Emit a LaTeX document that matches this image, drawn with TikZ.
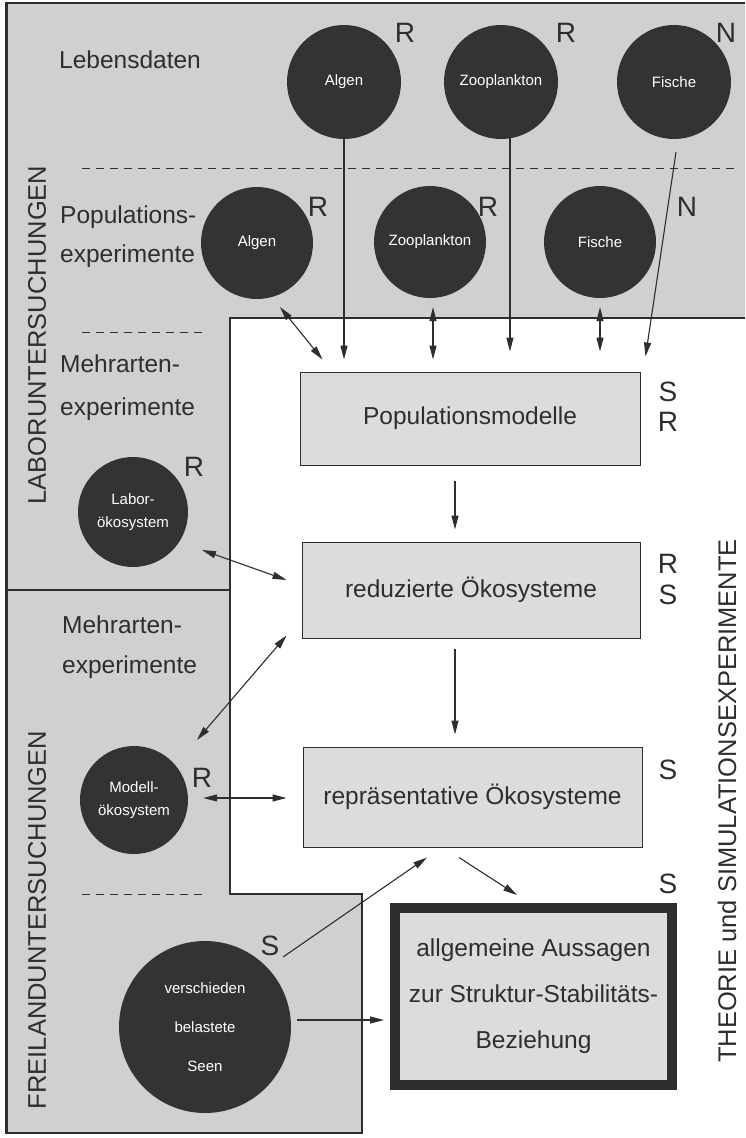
\documentclass[tikz,border=0pt]{standalone}
\usepackage{fontspec}
\setmainfont{Liberation Sans}
\usetikzlibrary{arrows.meta,calc}
\definecolor{ink}{HTML}{2E2E2E}
\definecolor{areagrey}{HTML}{D0D0D0}
\definecolor{boxfill}{HTML}{DCDCDC}
\definecolor{discfill}{HTML}{333333}
\begin{document}
\begin{tikzpicture}[x=1pt,y=-1pt,
  every node/.style={text=ink},
  disc/.style={circle,fill=discfill,text=white,inner sep=0pt,minimum size=#1,
    font=\fontsize{15}{23}\selectfont,align=center},
  modelbox/.style={draw=ink,line width=1pt,fill=boxfill,inner sep=0pt,
    font=\fontsize{24.5}{28}\selectfont},
  lbl/.style={anchor=base west,inner sep=0pt,font=\fontsize{24.5}{28}\selectfont},
  tagtext/.style={inner sep=0pt,font=\fontsize{28}{28}\selectfont},
  sidelabel/.style={rotate=90,inner sep=0pt,font=\fontsize{25.5}{26}\selectfont},
  arr/.style={draw=ink,line width=1.1pt,-{Triangle[length=14pt,width=7pt]}},
  dbl/.style={draw=ink,line width=1.1pt,{Triangle[length=14pt,width=7pt]}-{Triangle[length=14pt,width=7pt]}},
  sep/.style={draw=ink,line width=1pt,dash pattern=on 8pt off 6pt},
  frame/.style={draw=ink,line width=1.4pt}
]
\useasboundingbox (0,0) rectangle (745,1138);
\fill[white] (0,0) rectangle (745,1138);
% shaded regions
\fill[areagrey] (8,3) -- (745,3) -- (745,318) -- (230,318) -- (230,894) -- (362,894) -- (362,1133) -- (8,1133) -- cycle;
\draw[frame] (745,318) -- (230,318) -- (230,894) -- (362,894) -- (362,1133) -- (6,1133);
\draw[frame] (6,3) -- (745,3);
\draw[draw=ink,line width=3pt] (6,2) -- (6,1134);
\draw[frame] (6,590) -- (230,590);
\draw[sep] (82,168) -- (735,168);
\draw[sep] (82,332) -- (207,332);
\draw[sep] (82,894) -- (207,894);
% side labels
\node[sidelabel] (labor) at (37,335) {LABORUNTERSUCHUNGEN};
\node[sidelabel] (frei) at (37,920) {FREILANDUNTERSUCHUNGEN};
\node[sidelabel] (theo) at (727,801) {THEORIE und SIMULATIONSEXPERIMENTE};
% left labels
\node[lbl] (t1) at (59,68) {Lebensdaten};
\node[lbl] (t2) at (60,223) {Populations-};
\node[lbl] (t3) at (60,262) {experimente};
\node[lbl] (t4) at (60,372) {Mehrarten-};
\node[lbl] (t5) at (60,415) {experimente};
\node[lbl] (t6) at (62,633) {Mehrarten-};
\node[lbl] (t7) at (62,673) {experimente};
% discs
\node[disc=114pt] (a1) at (344,82) {Algen};
\node[disc=114pt] (z1) at (501,82) {Zooplankton};
\node[disc=114pt] (f1) at (674,82) {Fische};
\node[disc=112pt] (a2) at (257,243) {Algen};
\node[disc=112pt] (z2) at (430,242) {Zooplankton};
\node[disc=112pt] (f2) at (600,242) {Fische};
\node[disc=110pt] (lab) at (133,512) {Labor-\\ökosystem};
\node[disc=108pt] (mod) at (134,800) {Modell-\\ökosystem};
\node[disc=172pt,font=\fontsize{15}{39}\selectfont] (seen) at (205,1027) {verschieden\\belastete\\Seen};
% boxes
\node[modelbox,minimum width=340pt,minimum height=93pt] (pm) at (470,418.5) {Populationsmodelle};
\node[modelbox,minimum width=338pt,minimum height=96pt] (rd) at (471,590) {reduzierte Ökosysteme};
\node[modelbox,minimum width=339pt,minimum height=100pt] (rp) at (472.5,797) {repräsentative Ökosysteme};
\node[draw=ink,line width=10pt,fill=boxfill,inner sep=0pt,minimum width=277pt,minimum height=177pt,
  align=center,font=\fontsize{24.5}{46}\selectfont] (allg) at (533.5,996.5)
  {allgemeine Aussagen\\zur Struktur-Stabilitäts-\\Beziehung};
% tags
\node[tagtext] (ra1) at (405,33) {R};
\node[tagtext] (rz1) at (566,33) {R};
\node[tagtext] (nf1) at (726,33) {N};
\node[tagtext] (ra2) at (318,207) {R};
\node[tagtext] (rz2) at (488,207) {R};
\node[tagtext] (nf2) at (687,207) {N};
\node[tagtext] (rlab) at (194,467) {R};
\node[tagtext] (rmod) at (202,778) {R};
\node[tagtext] (spm) at (668,392) {S};
\node[tagtext] (rpm) at (668,422) {R};
\node[tagtext] (rrd) at (668,564) {R};
\node[tagtext] (srd) at (668,595) {S};
\node[tagtext] (srp) at (668,770) {S};
\node[tagtext] (sallg) at (668,884) {S};
\node[tagtext] (sseen) at (270,946) {S};
% connectors
\draw[arr] (a1.south) -- ($(a1.south |- pm.north)+(0,-12)$);
\draw[dbl] ($(a2.center)+(23,64)$) -- ($(pm.north west)+(23,-12)$);
\draw[dbl] ($(z2.south)+(3,9)$) -- ($(z2.south |- pm.north)+(3,-12)$);
\draw[arr] (z1.-81) -- ($(z1.-81 |- pm.north)+(0,-20)$);
\draw[dbl] ($(f2.south)+(0,9)$) -- ($(f2.south |- pm.north)+(0,-20)$);
\draw[arr] ($(f1.south)+(2,13)$) -- ($(pm.north east)+(5,-15)$);
\draw[arr] ($(pm.south)+(-15,15)$) -- ($(rd.north)+(-16,-12)$);
\draw[arr] ($(rd.south)+(-16,10)$) -- ($(rp.north)+(-17.5,-12)$);
\draw[dbl] ($(lab.center)+(69,38)$) -- ($(rd.west)+(-15,-10)$);
\draw[dbl] ($(mod.center)+(63,-60)$) -- ($(rd.south west)+(-15,-3)$);
\draw[dbl] ($(mod.east)+(15,-2)$) -- ($(rp.west)+(-16,1)$);
\draw[arr] ($(seen.center)+(78,-70)$) -- ($(rp.south)+(-45.5,10)$);
\draw[arr] ($(rp.south)+(-13.5,10)$) -- ($(allg.north)+(-16.5,-8)$);
\draw[arr] ($(seen.east)+(6,-7)$) -- ($(allg.west)+(-6,23.5)$);
\end{tikzpicture}
\end{document}
